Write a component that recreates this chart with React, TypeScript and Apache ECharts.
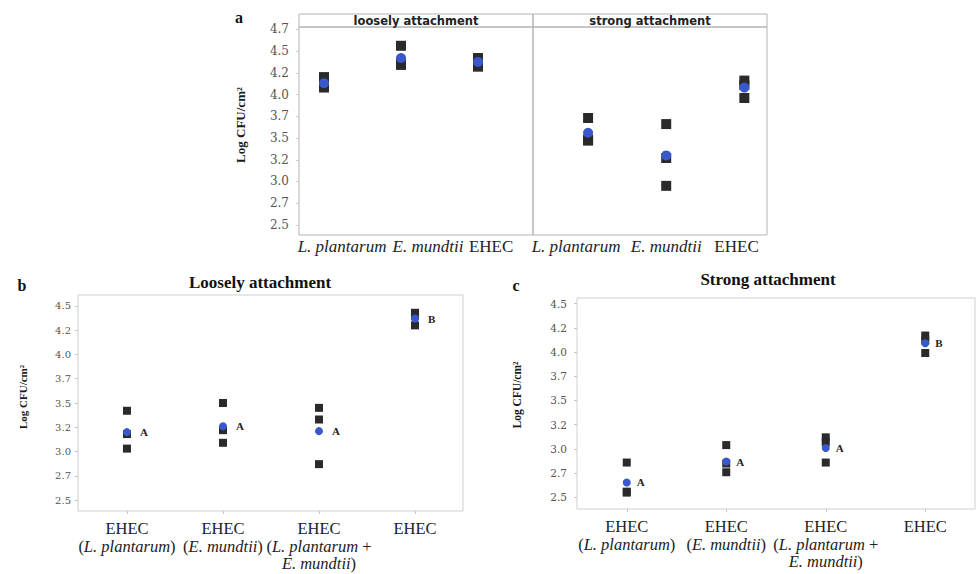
import React, { useEffect, useRef } from "react";
import * as echarts from "echarts";

// ---------- data ----------
const panelACategories = ["L. plantarum", "E. mundtii", "EHEC"];
const looselyReplicates = [
  [4.2, 4.12, 4.08],
  [4.56, 4.36, 4.34],
  [4.42, 4.39, 4.32],
];
const looselyMeans = [4.13, 4.42, 4.375];
const strongReplicates = [
  [3.73, 3.48, 3.47],
  [3.66, 3.27, 2.95],
  [4.16, 4.11, 3.96],
];
const strongMeans = [3.56, 3.3, 4.08];

const mixCategories = [
  "EHEC\n({i|L. plantarum})",
  "EHEC\n({i|E. mundtii})",
  "EHEC\n({i|L. plantarum} +\n{i|E. mundtii})",
  "EHEC",
];
const bReplicates = [
  [3.42, 3.18, 3.03],
  [3.5, 3.22, 3.09],
  [3.45, 3.33, 2.87],
  [4.43, 4.4, 4.3],
];
const bMeans = [3.2, 3.26, 3.21, 4.37];
const bLetters = ["A", "A", "A", "B"];
const cReplicates = [
  [2.86, 2.56, 2.55],
  [3.04, 2.85, 2.76],
  [3.12, 3.07, 2.86],
  [4.17, 4.12, 3.99],
];
const cMeans = [2.655, 2.87, 3.01, 4.09];
const cLetters = ["A", "A", "A", "B"];

const yTickValuesA = [2.5, 2.75, 3.0, 3.25, 3.5, 3.75, 4.0, 4.25, 4.5, 4.75];
const yTickLabelsA = ["2.5", "2.7", "3.0", "3.2", "3.5", "3.7", "4.0", "4.2", "4.5", "4.7"];
const yTickValuesBC = [2.5, 2.75, 3.0, 3.25, 3.5, 3.75, 4.0, 4.25, 4.5];
const yTickLabelsBC = ["2.5", "2.7", "3.0", "3.2", "3.5", "3.7", "4.0", "4.2", "4.5"];
const yTitle = "Log CFU/cm²";

// ---------- style ----------
const SERIF = "'Liberation Serif', 'DejaVu Serif', serif";
const TICKFONT = "'DejaVu Serif', serif";
const SQUARE = "#2a2a2a";
const BLUE = "#3858cc";
const BORDER = "#b4b4b4";
// label positions on panel-a x axes (labels sit offset from points in the figure)
const aLabelPos1 = [1.234, 2.35, 3.17];
const aLabelPos2 = [0.846, 2.0, 2.9];

function flat(reps: number[][]) {
  const out: number[][] = [];
  reps.forEach((r, i) => r.forEach((v) => out.push([i + 1, v])));
  return out;
}
function meanData(m: number[]) {
  return m.map((v, i) => [i + 1, v]);
}
function tickFmt(values: number[], labels: string[]) {
  return (v: number) => {
    const i = values.findIndex((t) => Math.abs(t - v) < 1e-6);
    return i >= 0 ? labels[i] : "";
  };
}

export default function App() {
  const ref = useRef<HTMLDivElement>(null);
  useEffect(() => {
    if (!ref.current) return;
    const chart = echarts.init(ref.current, undefined, { renderer: "svg" });

    const yAxisBase = (
      gridIndex: number,
      min: number,
      max: number,
      vals: number[],
      labels: string[],
      show: boolean,
      margin: number,
      fontSize: number
    ) => ({
      type: "value",
      gridIndex,
      min,
      max,
      axisLine: { show: false },
      splitLine: { show: false },
      axisTick: { show, length: 3, customValues: vals, lineStyle: { color: "#c8c8c8" } },
      axisLabel: {
        show,
        customValues: vals,
        margin,
        fontFamily: TICKFONT,
        fontSize,
        color: "#555",
        formatter: tickFmt(vals, labels),
      },
    });

    const aXAxis = (gridIndex: number, min: number, max: number, pos: number[]) => ({
      type: "value",
      gridIndex,
      min,
      max,
      axisLine: { show: false },
      splitLine: { show: false },
      axisTick: { show: false },
      axisLabel: {
        customValues: pos,
        margin: 3,
        fontFamily: SERIF,
        fontSize: 17,
        color: "#222",
        formatter: (v: number) => {
          const i = pos.findIndex((t) => Math.abs(t - v) < 1e-6);
          if (i < 0) return "";
          const n = panelACategories[i];
          return n === "EHEC" ? n : `{i|${n}}`;
        },
        rich: { i: { fontStyle: "italic", fontFamily: SERIF, fontSize: 17, color: "#222" } },
      },
    });

    const bcXAxis = (gridIndex: number, min: number, max: number) => ({
      type: "value",
      gridIndex,
      min,
      max,
      axisLine: { show: false },
      splitLine: { show: false },
      axisTick: { show: true, length: 3, customValues: [1, 2, 3, 4], lineStyle: { color: "#c8c8c8" } },
      axisLabel: {
        customValues: [1, 2, 3, 4],
        margin: 9,
        fontFamily: SERIF,
        fontSize: 16.5,
        lineHeight: 17.5,
        color: "#222",
        formatter: (v: number) => mixCategories[Math.round(v) - 1] ?? "",
        rich: { i: { fontStyle: "italic", fontFamily: SERIF, fontSize: 16.5, lineHeight: 17.5, color: "#222" } },
      },
    });

    const sq = (xi: number, data: number[][], size: number) => ({
      type: "scatter",
      xAxisIndex: xi,
      yAxisIndex: xi,
      symbol: "rect",
      symbolSize: size,
      itemStyle: { color: SQUARE, opacity: 1 },
      data,
      z: 2,
    });
    const mean = (xi: number, data: number[][], size: number, letters?: string[], dist = 8) => ({
      type: "scatter",
      xAxisIndex: xi,
      yAxisIndex: xi,
      symbol: "circle",
      symbolSize: size,
      itemStyle: { color: BLUE, opacity: 1 },
      data,
      z: 3,
      label: letters
        ? {
            show: true,
            position: "right",
            distance: dist,
            formatter: (p: any) => letters[p.dataIndex],
            fontFamily: SERIF,
            fontWeight: "bold",
            fontSize: 11,
            color: "#222",
          }
        : { show: false },
    });

    const headerText = (x: number, text: string) => ({
      type: "text",
      x,
      y: 20.5,
      style: {
        text,
        fontFamily: "'DejaVu Sans', sans-serif",
        fontWeight: "bold",
        fontSize: 11.5,
        fill: "#222",
        align: "center",
        verticalAlign: "middle",
      },
    });
    const panelLetter = (x: number, y: number, t: string) => ({
      type: "text",
      x,
      y,
      style: { text: t, fontFamily: SERIF, fontWeight: "bold", fontSize: 16, fill: "#111", align: "center", verticalAlign: "middle" },
    });
    const panelTitle = (x: number, y: number, t: string) => ({
      type: "text",
      x,
      y,
      style: { text: t, fontFamily: SERIF, fontWeight: "bold", fontSize: 17, fill: "#111", align: "center", verticalAlign: "middle" },
    });
    const axisTitle = (x: number, y: number, size: number) => ({
      type: "text",
      x,
      y,
      rotation: Math.PI / 2,
      style: { text: yTitle, fontFamily: SERIF, fontWeight: "bold", fontSize: size, fill: "#1a1a1a", align: "center", verticalAlign: "middle" },
    });

    chart.setOption({
      animation: false,
      backgroundColor: "#ffffff",
      grid: [
        { left: 299, top: 27, width: 234, height: 208, show: true, borderColor: BORDER, borderWidth: 1 },
        { left: 533, top: 27, width: 234, height: 208, show: true, borderColor: BORDER, borderWidth: 1 },
        { left: 78, top: 295, width: 385, height: 216, show: true, borderColor: "#cfcfcf", borderWidth: 1 },
        { left: 577, top: 298, width: 398, height: 211, show: true, borderColor: "#cfcfcf", borderWidth: 1 },
      ],
      xAxis: [
        aXAxis(0, 0.675, 3.714, aLabelPos1),
        aXAxis(1, 0.295, 3.29, aLabelPos2),
        bcXAxis(2, 0.49, 4.5),
        bcXAxis(3, 0.5, 4.5),
      ],
      yAxis: [
        yAxisBase(0, 2.385, 4.776, yTickValuesA, yTickLabelsA, true, 10, 12),
        yAxisBase(1, 2.385, 4.776, yTickValuesA, yTickLabelsA, false, 10, 12),
        yAxisBase(2, 2.387, 4.613, yTickValuesBC, yTickLabelsBC, true, 7, 10),
        yAxisBase(3, 2.381, 4.557, yTickValuesBC, yTickLabelsBC, true, 10, 10.5),
      ],
      series: [
        sq(0, flat(looselyReplicates), 10),
        mean(0, meanData(looselyMeans), 10),
        sq(1, flat(strongReplicates), 10),
        mean(1, meanData(strongMeans), 10),
        sq(2, flat(bReplicates), 8),
        mean(2, meanData(bMeans), 8, bLetters, 9),
        sq(3, flat(cReplicates), 8),
        mean(3, meanData(cMeans), 8, cLetters, 6),
      ],
      graphic: [
        { type: "rect", shape: { x: 299, y: 14, width: 234, height: 13 }, style: { fill: "none", stroke: BORDER, lineWidth: 1 } },
        { type: "rect", shape: { x: 533, y: 14, width: 234, height: 13 }, style: { fill: "none", stroke: BORDER, lineWidth: 1 } },
        headerText(416, "loosely attachment"),
        headerText(650, "strong attachment"),
        panelLetter(239, 17, "a"),
        panelLetter(22, 285, "b"),
        panelLetter(516, 285, "c"),
        panelTitle(260, 282, "Loosely attachment"),
        panelTitle(768, 279, "Strong attachment"),
        axisTitle(240, 125, 13),
        axisTitle(23, 397, 11),
        axisTitle(517, 395, 11.5),
      ],
    });
    return () => chart.dispose();
  }, []);
  return <div ref={ref} style={{ position: "absolute", left: 0, top: 0, width: 976, height: 574 }} />;
}
